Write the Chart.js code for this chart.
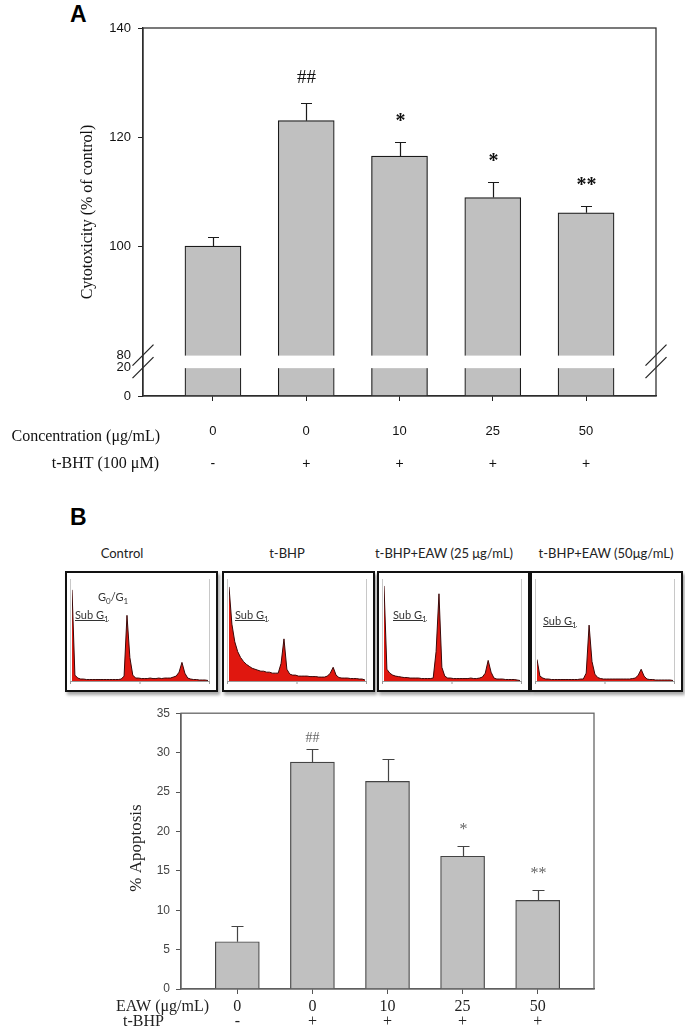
<!DOCTYPE html>
<html>
<head>
<meta charset="utf-8">
<script src="https://cdn.jsdelivr.net/npm/chart.js@4.4.1/dist/chart.umd.min.js"></script>
<style>
  body { margin: 0; background: #fff; width: 685px; height: 1028px; position: relative; overflow: hidden; }
  .wrap { position: absolute; }
  .panel { position: absolute; font: bold 23px "Liberation Sans", Arial, sans-serif; line-height: 23px; color: #000; }
  .box { position: absolute; width: 153px; height: 121px; border: 2px solid #111; box-sizing: border-box;
         box-shadow: 2px 3px 3px rgba(0,0,0,0.35); background: #fff; }
  .box .inner { position: relative; width: 149px; height: 117px; }
  .ttl { position: absolute; top: 545px; font: 13px Lato, "Open Sans", sans-serif; line-height: 16px; color: #222;
         white-space: nowrap; transform: translateX(-50%); }
  .lbl { position: absolute; font: 11px Lato, "Open Sans", sans-serif; line-height: 12px; color: #333; white-space: nowrap; }
  .lbl sub { font-size: 8px; }
</style>
</head>
<body>

<div class="panel" style="left:70px; top:3px">A</div>
<div class="wrap" style="left:0; top:0; width:685px; height:480px"><canvas id="chartA"></canvas></div>

<div class="panel" style="left:70px; top:506px">B</div>
<div class="ttl" style="left:122px">Control</div>
<div class="ttl" style="left:287px">t-BHP</div>
<div class="ttl" style="left:444px">t-BHP+EAW (25 μg/mL)</div>
<div class="ttl" style="left:606px">t-BHP+EAW (50μg/mL)</div>

<div class="box" style="left:65px; top:571px"><div class="inner"><canvas id="hist0"></canvas></div></div>
<div class="box" style="left:222px; top:571px"><div class="inner"><canvas id="hist1"></canvas></div></div>
<div class="box" style="left:377px; top:571px"><div class="inner"><canvas id="hist2"></canvas></div></div>
<div class="box" style="left:530px; top:571px"><div class="inner"><canvas id="hist3"></canvas></div></div>

<div class="lbl" style="left:98px; top:591px">G<sub>0</sub>/G<sub>1</sub></div>
<div class="lbl" style="left:75px; top:609px"><u>Sub G<sub>1</sub></u></div>
<div class="lbl" style="left:235px; top:609px"><u>Sub G<sub>1</sub></u></div>
<div class="lbl" style="left:393px; top:609px"><u>Sub G<sub>1</sub></u></div>
<div class="lbl" style="left:543px; top:615px"><u>Sub G<sub>1</sub></u></div>

<div class="wrap" style="left:0; top:700px; width:685px; height:328px"><canvas id="chartB"></canvas></div>

<script>
// Panel A: cytotoxicity
const concLabels = ['0', '0', '10', '25', '50'];
const tbhtSigns = ['-', '+', '+', '+', '+'];
const cytoValues = [100, 123, 116.5, 108.9, 106.1];
const cytoErrors = [1.6, 3.3, 2.5, 2.8, 1.3];
const cytoMarks = ['', '##', '*', '*', '**'];
const cytoTicks = [0, 20, 80, 100, 120, 140];

// Panel B: apoptosis
const eawLabels = ['0', '0', '10', '25', '50'];
const tbhpSigns = ['-', '+', '+', '+', '+'];
const apopValues = [6.0, 28.8, 26.35, 16.85, 11.25];
const apopErrors = [2.0, 1.7, 2.85, 1.35, 1.3];
const apopMarks = ['', '##', '', '*', '**'];

// DNA content histograms (relative counts per channel bin)
const histControl = [93, 6, 3, 2, 2, 1.5, 1.5, 1.5, 1.5, 1.5, 1.5, 1.5, 1.5, 1.5, 1.5, 1.5, 1.5, 2, 5, 67, 24, 6, 3, 3,
  2.5, 2.5, 2.5, 3, 2.5, 2.5, 3, 2.5, 3, 3, 3, 4, 5, 9, 19, 8, 3, 2, 1.5, 1.5, 1, 1, 1, 0.5];
const histTbhp = [96, 58, 40, 30, 24, 20, 17, 15, 13, 12, 11, 10, 10, 9, 9, 8, 8, 8, 18, 43, 12, 7, 6, 6,
  5, 5, 5, 5, 4.5, 4.5, 4.5, 4, 4, 4, 5, 8, 14, 6, 3.5, 3, 3, 3, 2.5, 2.5, 2.5, 2, 2, 1];
const histEaw25 = [97, 12, 8, 6, 5, 4.5, 4, 3.5, 3.5, 3, 3, 3, 3, 2.5, 2.5, 2.5, 2.5, 3, 30, 89, 14, 5, 3, 3,
  2.5, 2.5, 2.5, 2.5, 2.5, 2.5, 3, 2.5, 2.5, 3, 4, 8, 21, 9, 3, 2, 2, 2, 1.5, 1.5, 1.5, 1.5, 1, 0.5];
const histEaw50 = [22, 5, 3, 2, 2, 1.5, 1.5, 1.5, 1.5, 1.5, 1.5, 1.5, 1.5, 1.5, 1.5, 2, 2, 8, 57, 20, 7, 3.5, 2.5, 2,
  2, 2, 2, 2, 2, 2, 2, 2, 2, 2.5, 3, 6, 12, 5, 2, 1.5, 1.5, 1, 1, 1, 1, 1, 1, 0.5];

const SERIF = '"Liberation Serif", "Times New Roman", serif';
const SANS = '"Liberation Sans", Arial, sans-serif';

// broken y axis for panel A: 0-20 squeezed under the 80-140 range
const LOW_BOTTOM = 72.5, LOW_TOP = 77.7, BREAK_TOP = 80;
function cytoAxis(v) {
  return v >= BREAK_TOP ? v : LOW_BOTTOM + (LOW_TOP - LOW_BOTTOM) * v / 20;
}

function errorPlugin(values, errors, marks, toAxis, st) {
  return {
    id: 'errorBars',
    afterDatasetsDraw(chart) {
      const ctx = chart.ctx, xs = chart.scales.x, ys = chart.scales.y;
      ctx.save();
      ctx.strokeStyle = st.color;
      ctx.lineWidth = 1.2;
      values.forEach((v, i) => {
        const x = Math.round(xs.getPixelForValue(i)) + 0.5;
        const y0 = ys.getPixelForValue(toAxis(v));
        const y1 = Math.round(ys.getPixelForValue(toAxis(v + errors[i]))) + 0.5;
        ctx.beginPath();
        ctx.moveTo(x, y0); ctx.lineTo(x, y1);
        ctx.moveTo(x - st.cap, y1); ctx.lineTo(x + st.cap, y1);
        ctx.stroke();
        const m = marks[i];
        if (m) {
          const star = m[0] === '*';
          ctx.font = star ? st.starFont : st.hashFont;
          ctx.fillStyle = st.markColor;
          ctx.textAlign = 'center';
          ctx.textBaseline = 'middle';
          ctx.fillText(m, x, y1 - (star ? st.starGap : st.hashGap));
        }
      });
      ctx.restore();
    }
  };
}

function framePlugin(color, width) {
  return {
    id: 'frame',
    afterDraw(chart) {
      const { ctx, chartArea: a } = chart;
      ctx.save();
      ctx.strokeStyle = color;
      ctx.lineWidth = width;
      ctx.strokeRect(a.left, a.top, a.right - a.left, a.bottom - a.top);
      ctx.restore();
    }
  };
}

// white gap and slashes of the axis break
const breakPlugin = {
  id: 'axisBreak',
  afterDatasetsDraw(chart) {
    const { ctx, chartArea: a, scales: { y } } = chart;
    const yHi = y.getPixelForValue(BREAK_TOP), yLo = y.getPixelForValue(LOW_TOP);
    ctx.save();
    ctx.fillStyle = '#fff';
    ctx.fillRect(a.left + 1, yHi + 0.5, a.right - a.left - 2, yLo - yHi);
    ctx.restore();
  },
  afterDraw(chart) {
    const { ctx, chartArea: a, scales: { y } } = chart;
    const yHi = y.getPixelForValue(BREAK_TOP), yLo = y.getPixelForValue(LOW_TOP);
    ctx.save();
    ctx.strokeStyle = '#222';
    ctx.lineWidth = 1.2;
    [a.left, a.right].forEach(x => {
      [yHi, yLo].forEach(yy => {
        ctx.beginPath();
        ctx.moveTo(x - 10.5, yy + 10.5);
        ctx.lineTo(x + 10.5, yy - 10.5);
        ctx.stroke();
      });
    });
    ctx.restore();
  }
};

const labelsA = {
  id: 'labelsA',
  afterDraw(chart) {
    const { ctx, scales: { x } } = chart;
    ctx.save();
    ctx.fillStyle = '#111';
    ctx.textBaseline = 'middle';
    ctx.font = '16px ' + SERIF;
    ctx.save();
    ctx.translate(88, 212);
    ctx.rotate(-Math.PI / 2);
    ctx.textAlign = 'center';
    ctx.fillText('Cytotoxicity (% of control)', 0, 0);
    ctx.restore();
    ctx.textAlign = 'right';
    ctx.fillText('Concentration (μg/mL)', 160, 437);
    ctx.fillText('t-BHT (100 μM)', 159, 464);
    ctx.textAlign = 'center';
    concLabels.forEach((t, i) => {
      ctx.font = '13px ' + SANS;
      ctx.fillText(t, x.getPixelForValue(i), 431);
      ctx.font = '14px ' + SANS;
      ctx.fillText(tbhtSigns[i], x.getPixelForValue(i), 464);
    });
    ctx.restore();
  }
};

const labelsB = {
  id: 'labelsB',
  afterDraw(chart) {
    const { ctx, scales: { x } } = chart;
    ctx.save();
    ctx.fillStyle = '#222';
    ctx.textBaseline = 'middle';
    ctx.font = '17px ' + SERIF;
    ctx.save();
    ctx.translate(137, 148);
    ctx.rotate(-Math.PI / 2);
    ctx.textAlign = 'center';
    ctx.fillText('% Apoptosis', 0, 0);
    ctx.restore();
    ctx.font = '16px ' + SERIF;
    ctx.textAlign = 'left';
    ctx.fillText('EAW (μg/mL)', 116, 307);
    ctx.fillText('t-BHP', 123, 322);
    ctx.textAlign = 'center';
    eawLabels.forEach((t, i) => {
      ctx.fillText(t, x.getPixelForValue(i), 307);
      ctx.fillText(tbhpSigns[i], x.getPixelForValue(i), 322);
    });
    ctx.restore();
  }
};

const fixedTicks = (arr) => (scale) => { scale.ticks = arr.map(v => ({ value: v })); };

// ---- Panel A ----
new Chart(document.getElementById('chartA'), {
  type: 'bar',
  data: {
    datasets: [{
      data: cytoValues.map((v, i) => ({ x: i, y: cytoAxis(v) })),
      base: cytoAxis(0),
      backgroundColor: '#c0c0c0',
      borderColor: '#1a1a1a',
      borderWidth: 1.2,
      barThickness: 56
    }]
  },
  options: {
    responsive: true, maintainAspectRatio: false, animation: false,
    layout: { padding: { top: 28, right: 29, left: 0, bottom: 0 } },
    plugins: { legend: { display: false }, tooltip: { enabled: false } },
    scales: {
      x: {
        type: 'linear', min: -0.75, max: 4.75, offset: false,
        afterBuildTicks: fixedTicks([0, 1, 2, 3, 4]),
        afterFit: s => { s.height = 84; },
        ticks: { display: false },
        grid: { offset: false, drawOnChartArea: false, tickLength: 5, tickColor: '#222' },
        border: { color: '#222', width: 1.3 }
      },
      y: {
        min: cytoAxis(0), max: 140,
        afterBuildTicks: fixedTicks(cytoTicks.map(cytoAxis)),
        afterFit: s => { s.width = 143; },
        ticks: {
          padding: 7, color: '#111', font: { family: SANS, size: 13 },
          callback: (v, i) => cytoTicks[i]
        },
        grid: {
          drawOnChartArea: false, tickLength: 5,
          tickColor: c => (c.tick && (c.tick.value === LOW_TOP || c.tick.value === BREAK_TOP)) ? 'rgba(0,0,0,0)' : '#222'
        },
        border: { color: '#222', width: 1.3 }
      }
    }
  },
  plugins: [
    breakPlugin,
    framePlugin('#333', 1.3),
    errorPlugin(cytoValues, cytoErrors, cytoMarks, cytoAxis, {
      color: '#1a1a1a', cap: 5.5, markColor: '#111',
      hashFont: '19px ' + SERIF, starFont: 'bold 20px ' + SERIF, hashGap: 25, starGap: 21
    }),
    labelsA
  ]
});

// ---- Panel B bar chart ----
new Chart(document.getElementById('chartB'), {
  type: 'bar',
  data: {
    datasets: [{
      data: apopValues.map((v, i) => ({ x: i, y: v })),
      backgroundColor: '#c0c0c0',
      borderColor: '#444',
      borderWidth: 1.2,
      barThickness: 44
    }]
  },
  options: {
    responsive: true, maintainAspectRatio: false, animation: false,
    layout: { padding: { top: 7, right: 91, left: 0, bottom: 0 } },
    plugins: { legend: { display: false }, tooltip: { enabled: false } },
    scales: {
      x: {
        type: 'linear', min: -0.75, max: 4.75, offset: false,
        afterBuildTicks: fixedTicks([0, 1, 2, 3, 4]),
        afterFit: s => { s.height = 39; },
        ticks: { display: false },
        grid: { offset: false, drawOnChartArea: false, tickLength: 5, tickColor: '#555' },
        border: { color: '#555', width: 1.3 }
      },
      y: {
        min: 0, max: 35,
        ticks: { stepSize: 5, padding: 6, color: '#444', font: { family: SANS, size: 12 } },
        afterFit: s => { s.width = 181; },
        grid: { drawOnChartArea: false, tickLength: 5, tickColor: '#555' },
        border: { color: '#555', width: 1.3 }
      }
    }
  },
  plugins: [
    framePlugin('#666', 1.3),
    errorPlugin(apopValues, apopErrors, apopMarks, v => v, {
      color: '#444', cap: 6, markColor: '#666',
      hashFont: '14px ' + SERIF, starFont: '16px ' + SERIF, hashGap: 11, starGap: 17
    }),
    labelsB
  ]
});

// ---- flow cytometry histograms ----
const histFrame = {
  id: 'histFrame',
  beforeDatasetsDraw(chart) {
    const { ctx, chartArea: a } = chart;
    ctx.save();
    ctx.strokeStyle = '#c8c8c8';
    ctx.lineWidth = 1;
    ctx.beginPath();
    ctx.moveTo(a.left - 1.5, a.top - 4); ctx.lineTo(a.left - 1.5, a.bottom);
    ctx.moveTo(a.right + 1.5, a.top - 4); ctx.lineTo(a.right + 1.5, a.bottom);
    ctx.stroke();
    ctx.strokeStyle = '#999';
    ctx.beginPath();
    ctx.moveTo(a.left - 1.5, a.bottom + 0.5); ctx.lineTo(a.right + 1.5, a.bottom + 0.5);
    const mid = (a.left + a.right) / 2;
    [a.left - 1.5, mid, a.right + 1.5].forEach(x => { ctx.moveTo(x, a.bottom); ctx.lineTo(x, a.bottom + 3); });
    ctx.stroke();
    ctx.restore();
  }
};

[histControl, histTbhp, histEaw25, histEaw50].forEach((h, k) => {
  new Chart(document.getElementById('hist' + k), {
    type: 'line',
    data: {
      datasets: [{
        data: h.map((v, i) => ({ x: i, y: v })),
        borderColor: '#3a0808',
        borderWidth: 1,
        backgroundColor: '#e0170f',
        fill: 'origin',
        pointRadius: 0,
        tension: 0
      }]
    },
    options: {
      responsive: true, maintainAspectRatio: false, animation: false,
      layout: { padding: { left: 5, right: 8, top: 10, bottom: 9 } },
      plugins: { legend: { display: false }, tooltip: { enabled: false } },
      scales: {
        x: { type: 'linear', display: false, min: 0, max: h.length - 1 },
        y: { display: false, min: 0, max: 100 }
      }
    },
    plugins: [histFrame]
  });
});
</script>
</body>
</html>
